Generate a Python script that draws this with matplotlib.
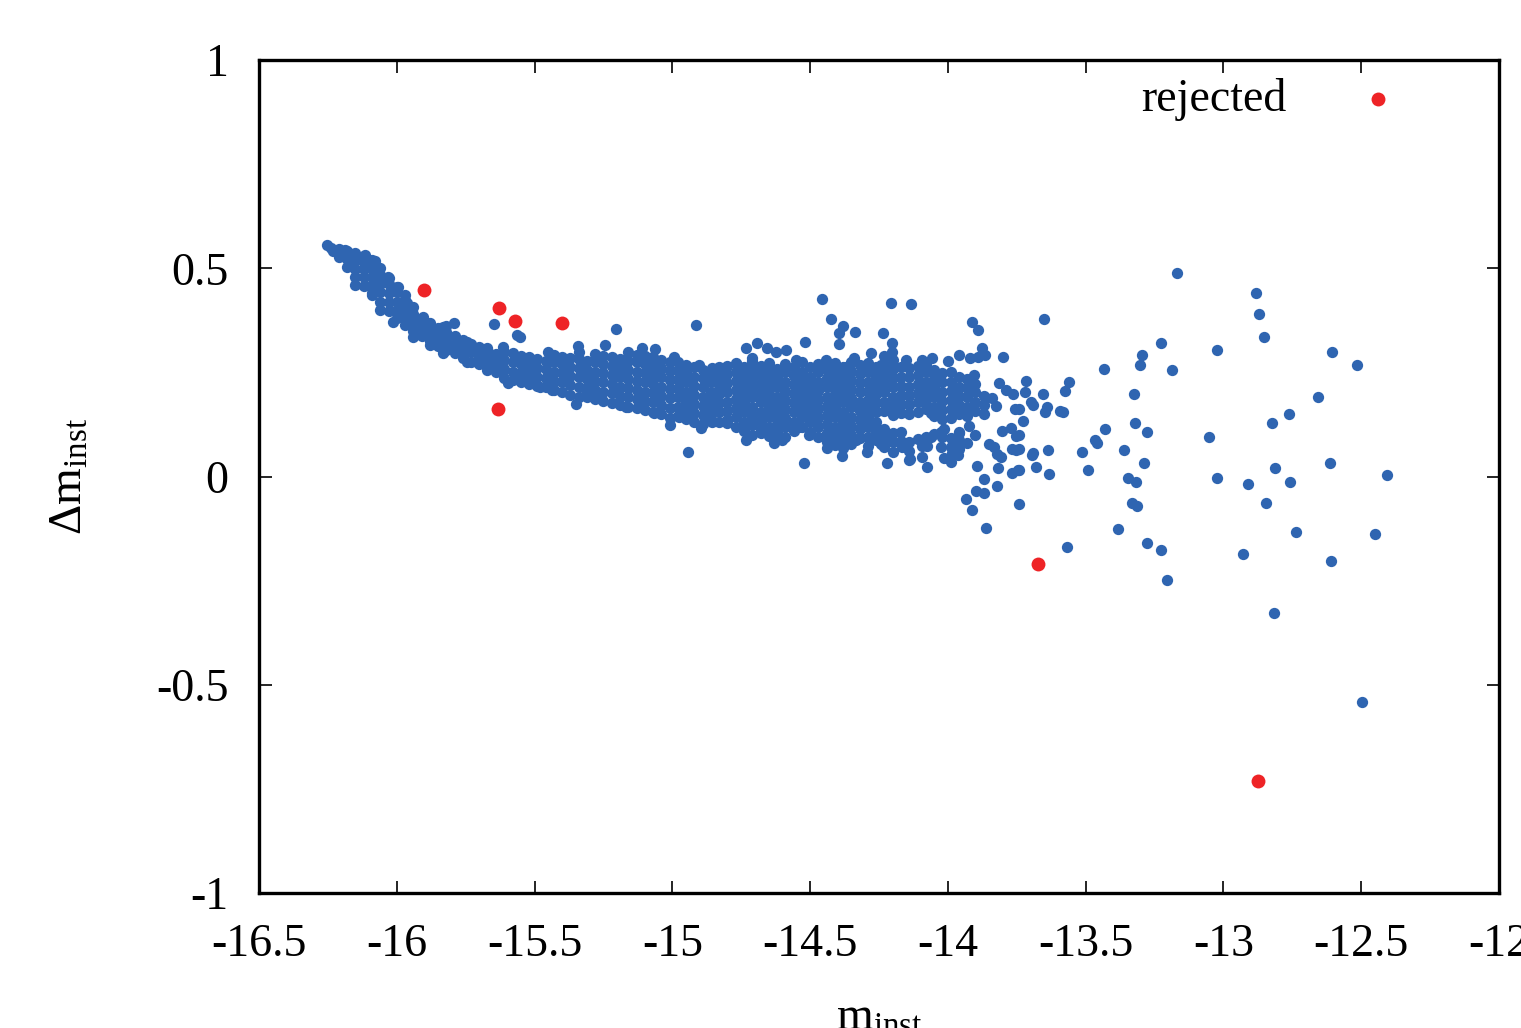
import matplotlib
matplotlib.use('Agg')
import matplotlib.pyplot as plt
from matplotlib.ticker import MultipleLocator, FormatStrFormatter

plt.rcParams['font.family'] = ['Liberation Serif', 'DejaVu Serif']
plt.rcParams['mathtext.fontset'] = 'custom'
plt.rcParams['mathtext.rm'] = 'Liberation Serif'
plt.rcParams['mathtext.it'] = 'Liberation Serif:italic'
plt.rcParams['axes.unicode_minus'] = False

# dense part of the cloud, read column by column (m_inst, list of delta m)
band_m = [-16.24, -16.21, -16.18, -16.15, -16.12, -16.09, -16.06, -16.03, -16.00, -15.97,
          -15.94, -15.91, -15.88, -15.85, -15.82, -15.79, -15.76, -15.73, -15.70, -15.67,
          -15.64, -15.61, -15.58, -15.55, -15.52, -15.49, -15.46, -15.43, -15.40, -15.37,
          -15.34, -15.31, -15.28, -15.25, -15.22, -15.19, -15.16, -15.13, -15.10, -15.07,
          -15.04, -15.01, -14.98, -14.95, -14.92, -14.89, -14.86, -14.83, -14.80, -14.77,
          -14.74, -14.71, -14.68, -14.65, -14.62, -14.59, -14.56, -14.53, -14.50, -14.47,
          -14.44, -14.41, -14.38, -14.35, -14.32, -14.29, -14.26, -14.23, -14.20, -14.17,
          -14.14, -14.11, -14.08, -14.05, -14.02, -13.99, -13.96, -13.93, -13.90, -13.87]
band_dm = [
    [0.548],
    [0.528, 0.546],
    [0.504, 0.522, 0.541],
    [0.478, 0.498, 0.518, 0.536],
    [0.458, 0.478, 0.498, 0.516, 0.530],
    [0.440, 0.460, 0.480, 0.500, 0.520],
    [0.420, 0.442, 0.462, 0.484, 0.500],
    [0.398, 0.420, 0.440, 0.462, 0.476],
    [0.380, 0.400, 0.420, 0.442, 0.456],
    [0.364, 0.384, 0.404, 0.424, 0.436],
    [0.350, 0.370, 0.390, 0.408],
    [0.338, 0.358, 0.378],
    [0.326, 0.346, 0.368],
    [0.314, 0.336, 0.356],
    [0.304, 0.325, 0.347, 0.362],
    [0.296, 0.316, 0.338],
    [0.285, 0.306, 0.328],
    [0.276, 0.298, 0.318],
    [0.270, 0.290, 0.310],
    [0.258, 0.280, 0.300],
    [0.250, 0.272, 0.294],
    [0.236, 0.258, 0.280, 0.300],
    [0.232, 0.252, 0.274, 0.296],
    [0.226, 0.248, 0.270, 0.290],
    [0.222, 0.243, 0.265, 0.286],
    [0.218, 0.238, 0.260, 0.282],
    [0.214, 0.236, 0.258, 0.278],
    [0.208, 0.230, 0.252, 0.274, 0.292],
    [0.204, 0.226, 0.248, 0.270, 0.288],
    [0.196, 0.220, 0.242, 0.264, 0.284],
    [0.190, 0.214, 0.238, 0.260, 0.282, 0.300],
    [0.192, 0.212, 0.234, 0.256, 0.278],
    [0.186, 0.208, 0.230, 0.252, 0.274, 0.294],
    [0.182, 0.204, 0.226, 0.248, 0.270, 0.290],
    [0.176, 0.200, 0.222, 0.244, 0.266, 0.286],
    [0.172, 0.194, 0.216, 0.238, 0.260, 0.282],
    [0.168, 0.190, 0.212, 0.234, 0.256, 0.278, 0.298],
    [0.164, 0.186, 0.208, 0.230, 0.252, 0.274, 0.292],
    [0.160, 0.182, 0.204, 0.226, 0.248, 0.270, 0.290],
    [0.156, 0.178, 0.200, 0.222, 0.244, 0.266, 0.288],
    [0.150, 0.172, 0.194, 0.216, 0.238, 0.260, 0.280],
    [0.140, 0.164, 0.188, 0.210, 0.232, 0.254, 0.274],
    [0.146, 0.168, 0.190, 0.212, 0.234, 0.256, 0.276],
    [0.138, 0.160, 0.182, 0.204, 0.226, 0.248, 0.268],
    [0.130, 0.152, 0.174, 0.196, 0.218, 0.240, 0.262],
    [0.126, 0.148, 0.170, 0.192, 0.214, 0.236, 0.256],
    [0.138, 0.160, 0.182, 0.204, 0.226, 0.248],
    [0.132, 0.154, 0.176, 0.198, 0.220, 0.242, 0.262],
    [0.136, 0.158, 0.180, 0.202, 0.224, 0.246, 0.266],
    [0.120, 0.142, 0.164, 0.186, 0.208, 0.230, 0.252, 0.272],
    [0.110, 0.132, 0.154, 0.176, 0.198, 0.220, 0.242, 0.264],
    [0.100, 0.124, 0.146, 0.168, 0.190, 0.212, 0.234, 0.256, 0.278],
    [0.112, 0.134, 0.156, 0.178, 0.200, 0.222, 0.244, 0.266],
    [0.098, 0.120, 0.142, 0.164, 0.186, 0.208, 0.230, 0.252, 0.272],
    [0.104, 0.126, 0.148, 0.170, 0.192, 0.214, 0.236, 0.258],
    [0.096, 0.118, 0.140, 0.162, 0.184, 0.206, 0.228, 0.250, 0.270],
    [0.110, 0.132, 0.154, 0.176, 0.198, 0.220, 0.242, 0.264],
    [0.120, 0.142, 0.164, 0.186, 0.208, 0.230, 0.252, 0.274],
    [0.108, 0.130, 0.152, 0.174, 0.196, 0.218, 0.240, 0.262],
    [0.096, 0.118, 0.140, 0.162, 0.184, 0.206, 0.228, 0.250, 0.270],
    [0.082, 0.104, 0.126, 0.148, 0.170, 0.192, 0.214, 0.236, 0.258],
    [0.076, 0.098, 0.120, 0.142, 0.164, 0.186, 0.208, 0.230, 0.252, 0.272],
    [0.068, 0.090, 0.112, 0.134, 0.156, 0.178, 0.200, 0.222, 0.244, 0.264],
    [0.078, 0.100, 0.122, 0.144, 0.166, 0.188, 0.210, 0.232, 0.254, 0.276],
    [0.092, 0.114, 0.136, 0.158, 0.180, 0.202, 0.224, 0.246, 0.268],
    [0.074, 0.096, 0.118, 0.140, 0.162, 0.184, 0.206, 0.228, 0.250, 0.272],
    [0.088, 0.110, 0.132, 0.154, 0.176, 0.198, 0.220, 0.242, 0.262],
    [0.070, 0.092, 0.114, 0.158, 0.180, 0.202, 0.224, 0.246, 0.268, 0.290],
    [0.060, 0.082, 0.104, 0.148, 0.170, 0.192, 0.214, 0.236, 0.258, 0.280],
    [0.086, 0.108, 0.152, 0.174, 0.196, 0.218, 0.240, 0.262],
    [0.062, 0.084, 0.150, 0.172, 0.194, 0.216, 0.238, 0.260],
    [0.090, 0.156, 0.178, 0.200, 0.222, 0.244, 0.266],
    [0.096, 0.162, 0.184, 0.206, 0.228, 0.250, 0.270],
    [0.102, 0.146, 0.168, 0.190, 0.212, 0.234, 0.256],
    [0.094, 0.138, 0.160, 0.182, 0.204, 0.226, 0.248],
    [0.070, 0.092, 0.140, 0.162, 0.184, 0.206, 0.228, 0.250],
    [0.066, 0.108, 0.150, 0.172, 0.194, 0.216, 0.238],
    [0.080, 0.146, 0.168, 0.190, 0.212, 0.234],
    [0.100, 0.158, 0.180, 0.202, 0.222],
    [0.150, 0.172, 0.194],
]

# edges of the cloud and single stars around it
edge_pts = [
    (-16.254, 0.556), (-16.232, 0.541), (-16.188, 0.544), (-16.116, 0.532), (-16.080, 0.517),
    (-16.062, 0.467), (-16.033, 0.479), (-15.996, 0.455), (-15.964, 0.417), (-15.906, 0.383),
    (-15.833, 0.359), (-15.793, 0.369), (-15.746, 0.322), (-15.674, 0.308), (-15.616, 0.311),
    (-15.562, 0.340), (-15.453, 0.299), (-15.344, 0.313), (-15.243, 0.316), (-15.109, 0.308),
    (-15.062, 0.306), (-14.993, 0.287), (-14.902, 0.268), (-14.855, 0.261), (-14.765, 0.268),
    (-16.152, 0.460), (-16.091, 0.436), (-16.062, 0.400), (-16.014, 0.371), (-15.942, 0.335),
    (-15.880, 0.316), (-15.833, 0.297), (-15.746, 0.275), (-15.674, 0.256), (-15.598, 0.224),
    (-15.482, 0.215), (-15.435, 0.208), (-15.348, 0.174), (-15.312, 0.196), (-15.167, 0.167),
    (-15.065, 0.152), (-15.007, 0.124), (-14.975, 0.143), (-14.895, 0.116), (-14.855, 0.131),
    (-14.801, 0.128), (-14.732, 0.088), (-14.678, 0.104), (-14.630, 0.080), (-14.601, 0.088),
    (-14.540, 0.119), (-14.504, 0.100), (-14.438, 0.068), (-14.384, 0.049), (-14.333, 0.088),
    (-14.293, 0.059), (-14.243, 0.080), (-14.221, 0.032), (-14.167, 0.071), (-14.141, 0.040),
]
mid_pts = [
    (-15.649, 0.366), (-15.554, 0.335), (-15.203, 0.354), (-14.913, 0.364), (-14.942, 0.059),
    (-14.457, 0.426), (-14.424, 0.378), (-14.380, 0.361), (-14.395, 0.345), (-14.395, 0.318),
    (-14.337, 0.347), (-14.732, 0.309), (-14.692, 0.321), (-14.656, 0.309), (-14.623, 0.299),
    (-14.587, 0.304), (-14.518, 0.323), (-14.710, 0.285), (-14.551, 0.280), (-14.442, 0.280),
    (-14.370, 0.263), (-14.341, 0.285), (-14.279, 0.297), (-14.243, 0.268), (-14.203, 0.321),
    (-14.203, 0.299), (-14.152, 0.280), (-14.522, 0.032), (-14.207, 0.417), (-14.134, 0.414),
    (-14.236, 0.345),
]
tail_pts = [
    (-13.913, 0.371), (-13.891, 0.352), (-13.877, 0.309), (-13.866, 0.292), (-13.960, 0.292),
    (-13.801, 0.287), (-13.920, 0.285), (-13.891, 0.287), (-14.058, 0.285), (-14.094, 0.280),
    (-14.000, 0.277), (-13.906, 0.244), (-13.815, 0.224), (-13.790, 0.208), (-13.764, 0.198),
    (-13.841, 0.188), (-13.826, 0.169), (-13.757, 0.162), (-14.062, 0.152), (-13.924, 0.121),
    (-13.804, 0.109), (-13.772, 0.116), (-13.754, 0.097), (-14.014, 0.114), (-14.025, 0.107),
    (-13.960, 0.104), (-13.960, 0.088), (-14.221, 0.100), (-14.243, 0.078), (-14.094, 0.073),
    (-14.076, 0.073), (-14.062, 0.095), (-13.851, 0.078), (-13.833, 0.071), (-13.768, 0.066),
    (-13.754, 0.064), (-13.822, 0.054), (-13.808, 0.047), (-13.986, 0.056), (-13.964, 0.052),
    (-14.025, 0.071), (-14.138, 0.042), (-14.094, 0.047), (-14.014, 0.044), (-13.989, 0.035),
    (-14.076, 0.023), (-13.895, 0.025), (-13.819, 0.020), (-13.768, 0.008), (-13.746, 0.016),
    (-13.870, -0.006), (-13.822, -0.023), (-13.899, -0.035), (-13.870, -0.040), (-13.935, -0.054),
    (-13.913, -0.080), (-13.862, -0.124),
    (-13.652, 0.378), (-13.228, 0.321), (-13.297, 0.292), (-13.301, 0.268), (-13.188, 0.256),
    (-13.435, 0.258), (-13.717, 0.229), (-13.562, 0.227), (-13.721, 0.203), (-13.576, 0.205),
    (-13.656, 0.198), (-13.326, 0.198), (-13.699, 0.179), (-13.692, 0.172), (-13.641, 0.167),
    (-13.649, 0.155), (-13.594, 0.157), (-13.583, 0.155), (-13.743, 0.162), (-13.728, 0.133),
    (-13.322, 0.128), (-13.428, 0.114), (-13.279, 0.107), (-13.743, 0.100), (-13.467, 0.088),
    (-13.457, 0.080), (-13.743, 0.066), (-13.692, 0.056), (-13.696, 0.052), (-13.638, 0.064),
    (-13.514, 0.059), (-13.362, 0.064), (-13.290, 0.032), (-13.743, 0.016), (-13.681, 0.023),
    (-13.634, 0.006), (-13.493, 0.016), (-13.348, -0.004), (-13.319, -0.013), (-13.743, -0.066),
    (-13.330, -0.064), (-13.312, -0.071), (-13.384, -0.126), (-13.569, -0.169), (-13.279, -0.160),
    (-13.228, -0.176), (-13.203, -0.249),
    (-13.170, 0.489), (-12.880, 0.441), (-12.870, 0.390), (-12.851, 0.335), (-13.025, 0.304),
    (-12.605, 0.299), (-12.514, 0.268), (-12.656, 0.191), (-12.761, 0.150), (-12.822, 0.128),
    (-13.051, 0.095), (-12.812, 0.020), (-12.612, 0.032), (-12.406, 0.004), (-13.025, -0.004),
    (-12.909, -0.018), (-12.757, -0.013), (-12.844, -0.064), (-12.736, -0.133), (-12.449, -0.138),
    (-12.928, -0.186), (-12.609, -0.203), (-12.815, -0.328), (-12.496, -0.541),
]

# rejected stars
rej_m = [-15.902, -15.630, -15.572, -15.399, -15.634, -13.674, -12.873]
rej_dm = [0.448, 0.405, 0.373, 0.369, 0.162, -0.210, -0.731]

blue = '#2f65b1'
red = '#ee2326'

# flatten everything for scatter
good_m, good_dm = [], []
for m, col in zip(band_m, band_dm):
    for d in col:
        good_m.append(m)
        good_dm.append(d)
for m, d in edge_pts + mid_pts + tail_pts:
    good_m.append(m)
    good_dm.append(d)

fig = plt.figure(figsize=(15.21, 10.28), dpi=100)
ax = fig.add_axes([0.1703, 0.1313, 0.8152, 0.8103])

ax.scatter(good_m, good_dm, s=66, c=blue, linewidths=0, zorder=2)
ax.scatter(rej_m, rej_dm, s=100, c=red, linewidths=0, zorder=3, label='rejected')

ax.set_xlim(-16.5, -12)
ax.set_ylim(-1, 1)
ax.xaxis.set_major_locator(MultipleLocator(0.5))
ax.yaxis.set_major_locator(MultipleLocator(0.5))
ax.xaxis.set_major_formatter(FormatStrFormatter('%g'))
ax.yaxis.set_major_formatter(FormatStrFormatter('%g'))
ax.tick_params(direction='in', top=True, right=True, length=9, width=1.2,
               labelsize=33)
ax.tick_params(axis='x', pad=22)
ax.tick_params(axis='y', pad=22)
for sp in ax.spines.values():
    sp.set_linewidth(2.4)

ax.set_xlabel('m$_{\\mathrm{inst}}$', fontsize=34)
ax.set_ylabel('Δm$_{\\mathrm{inst}}$', fontsize=34)
ax.xaxis.set_label_coords(0.5, -0.125)
ax.yaxis.set_label_coords(-0.135, 0.5)

ax.legend(loc='upper right', bbox_to_anchor=(0.954, 1.0), frameon=False,
          markerfirst=False, handletextpad=1.0, handlelength=2.0,
          scatterpoints=1, borderaxespad=0, fontsize=33)

fig.savefig('out.png', dpi=100)
